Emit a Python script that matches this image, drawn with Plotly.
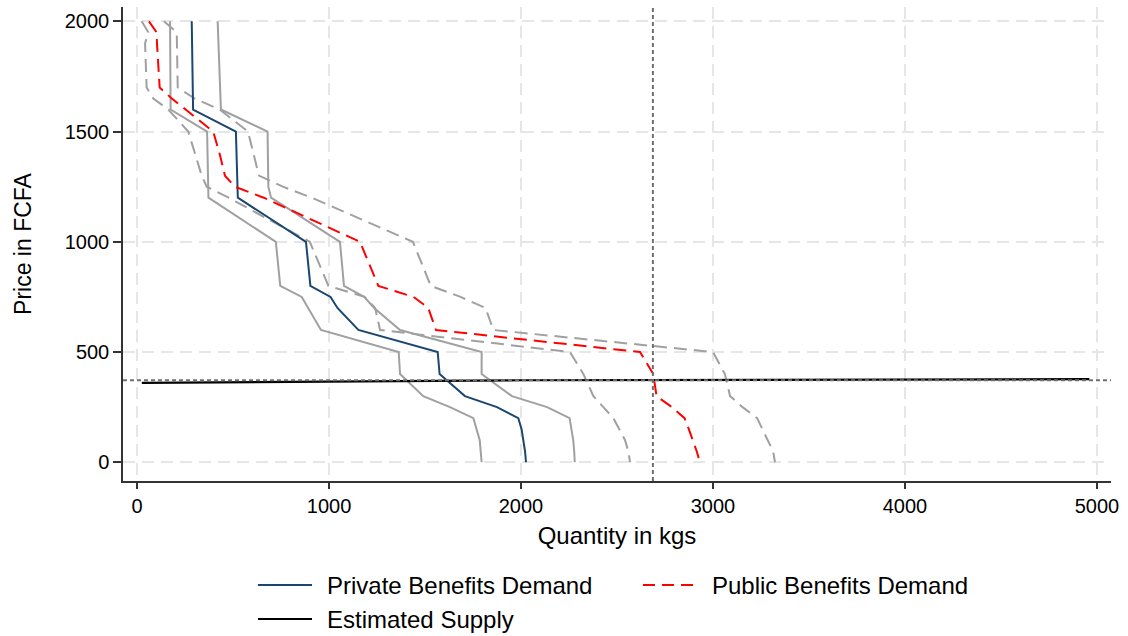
import plotly.graph_objects as go

# Price grid shared by all demand curves (FCFA)
price = [2000, 1950, 1900, 1700, 1650, 1600, 1500, 1400, 1300, 1250, 1200,
         1000, 800, 750, 700, 600, 500, 400, 300, 250, 200, 150, 100, 50, 0]

# Quantities demanded (kgs) at each price
private_demand = [285, 286, 287, 290, 291, 292, 515, 518, 520, 522, 525,
                  880, 903, 1008, 1044, 1153, 1566, 1576, 1708, 1875, 1986,
                  2003, 2013, 2021, 2026]
private_lower = [172, 172, 173, 174, 175, 175, 365, 367, 369, 370, 372,
                 723, 746, 858, 891, 958, 1363, 1370, 1491, 1630, 1752,
                 1768, 1785, 1790, 1795]
private_upper = [420, 422, 424, 430, 434, 437, 680, 681, 683, 684, 698,
                 1057, 1078, 1183, 1235, 1370, 1795, 1795, 1953, 2136, 2253,
                 2264, 2272, 2277, 2280]
public_demand = [62, 102, 104, 118, 181, 255, 397, 430, 458, 510, 660,
                 1161, 1257, 1440, 1517, 1557, 2620, 2689, 2706, 2786, 2852,
                 2874, 2895, 2915, 2932]
public_lower = [24, 59, 42, 50, 85, 163, 267, 302, 337, 363, 477,
                900, 997, 1185, 1240, 1266, 2255, 2325, 2377, 2429, 2481,
                2512, 2542, 2559, 2568]
public_upper = [140, 207, 208, 212, 300, 430, 578, 605, 635, 760, 910,
                1437, 1530, 1685, 1815, 1856, 3000, 3062, 3089, 3154, 3230,
                3257, 3287, 3313, 3323]

# Estimated supply curve
supply_quantity = [25, 2000, 4960]
supply_price = [360, 372, 377]

# Market equilibrium reference lines
eq_quantity = 2687
eq_price = 372

x_ticks = [0, 1000, 2000, 3000, 4000, 5000]
y_ticks = [0, 500, 1000, 1500, 2000]

NAVY = "#1a476f"
RED = "#ff0000"
GRAY = "#a0a0a0"
FONT = "Liberation Sans, Arial, sans-serif"
DASH = "13px,7px"

fig = go.Figure()

def add_line(q, p, color, width=2, dash="solid"):
    fig.add_trace(go.Scatter(x=q, y=p, mode="lines", showlegend=False,
                             hoverinfo="skip",
                             line=dict(color=color, width=width, dash=dash)))

add_line(private_lower, price, GRAY)
add_line(private_upper, price, GRAY)
add_line(public_lower, price, GRAY, dash=DASH)
add_line(public_upper, price, GRAY, dash=DASH)
add_line(private_demand, price, NAVY)
add_line(public_demand, price, RED, dash=DASH)
add_line(supply_quantity, supply_price, "#000000", width=2.2)

# Dotted equilibrium lines across the whole plot region
fig.add_shape(type="line", xref="x", yref="paper", x0=eq_quantity, x1=eq_quantity,
              y0=0, y1=1, line=dict(color="#707070", width=2, dash="4px,3px"))
fig.add_shape(type="line", xref="paper", yref="y", x0=0, x1=1,
              y0=eq_price, y1=eq_price,
              line=dict(color="#707070", width=2, dash="4px,3px"))

# Figure geometry (pixels)
W, H = 1128, 636
ML, MR, MT, MB = 123, 17, 7, 155
PW, PH = W - ML - MR, H - MT - MB

def px(xp):
    return (xp - ML) / PW

def py(yp):
    return (H - MB - yp) / PH

# Legend below the plot: two columns, two rows
legend_items = [
    ("Private Benefits Demand", NAVY, "solid", 258, 585),
    ("Public Benefits Demand", RED, "12px,7px", 643, 585),
    ("Estimated Supply", "#000000", "solid", 258, 619),
]
for label, color, dash, x0, yc in legend_items:
    fig.add_shape(type="line", xref="paper", yref="paper",
                  x0=px(x0), x1=px(x0 + 54), y0=py(yc), y1=py(yc),
                  line=dict(color=color, width=2, dash=dash))
    fig.add_annotation(xref="paper", yref="paper", x=px(x0 + 67), y=py(yc),
                       text=label, showarrow=False, xanchor="left",
                       yanchor="middle",
                       font=dict(family=FONT, size=24, color="#000000"))

axis_common = dict(
    showline=True, linecolor="#333333", linewidth=1.5,
    ticks="outside", tickcolor="#333333", tickwidth=1.5,
    showgrid=True, gridcolor="#e6e6e6", gridwidth=1.5, griddash="12px,7px",
    zeroline=False,
    tickfont=dict(family=FONT, size=20, color="#000000"),
)

fig.update_layout(
    width=W, height=H,
    margin=dict(l=ML, r=MR, t=MT, b=MB),
    paper_bgcolor="white", plot_bgcolor="white",
    xaxis=dict(range=[-73, 5073], tickvals=x_ticks, ticklen=6,
               title=dict(text="Quantity in kgs", standoff=11,
                          font=dict(family=FONT, size=24, color="#000000")),
               **axis_common),
    yaxis=dict(range=[-85, 2065], tickvals=y_ticks, ticklen=8,
               title=dict(text="Price in FCFA", standoff=27,
                          font=dict(family=FONT, size=23, color="#000000")),
               **axis_common),
)

fig.write_html("out.html")
